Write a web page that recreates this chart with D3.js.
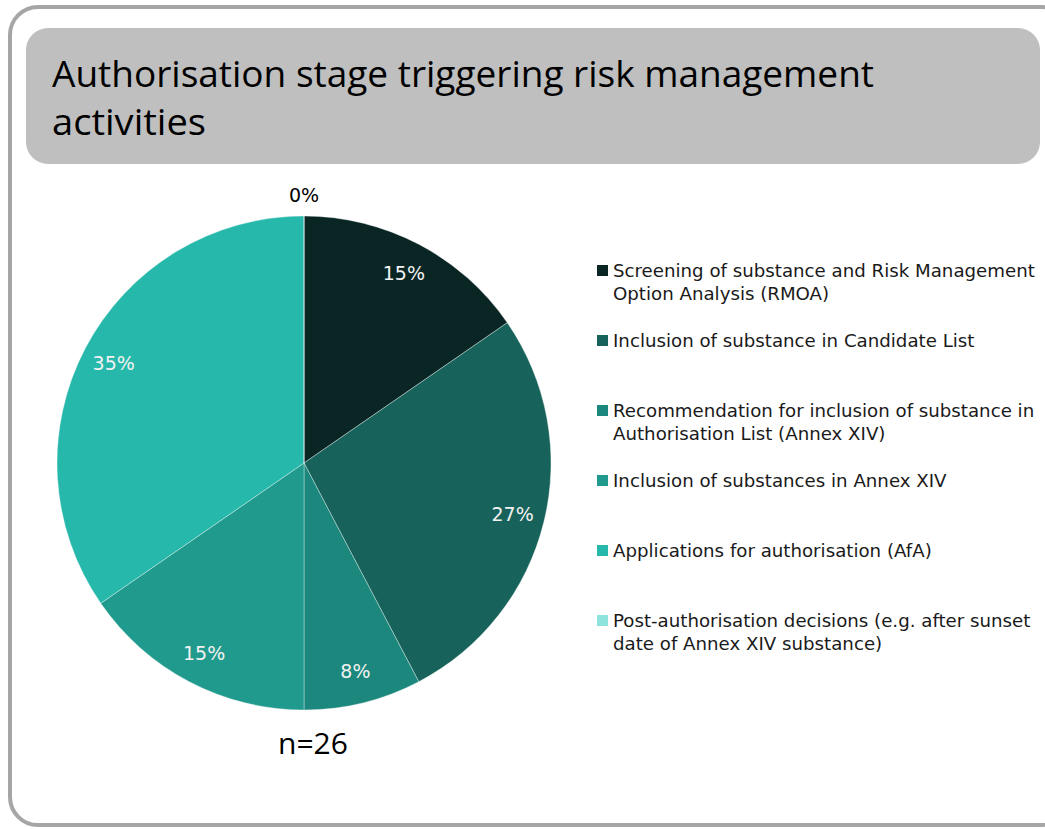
<!DOCTYPE html>
<html lang="en">
<head>
<meta charset="UTF-8">
<title>Authorisation stage triggering risk management activities</title>
<script src="https://cdnjs.cloudflare.com/ajax/libs/d3/7.8.5/d3.min.js"></script>
<style>
  body { margin: 0; background: #fff; }
  svg { display: block; }
  .title { font-family: "Open Sans", sans-serif; font-size: 37px; fill: #000; }
  .legend text { font-family: "DejaVu Sans", sans-serif; font-size: 18.2px; fill: #1a1a1a; }
  .pct { font-family: "DejaVu Sans", sans-serif; font-size: 19px; }
  .nlabel { font-family: "Open Sans", sans-serif; font-size: 30px; fill: #000; }
</style>
</head>
<body>
<svg id="chart" width="1045" height="829"></svg>
<script>
// chart data
const stages = [
  ["Screening of substance and Risk Management", "Option Analysis (RMOA)"],
  ["Inclusion of substance in Candidate List"],
  ["Recommendation for inclusion of substance in", "Authorisation List (Annex XIV)"],
  ["Inclusion of substances in Annex XIV"],
  ["Applications for authorisation (AfA)"],
  ["Post-authorisation decisions (e.g. after sunset", "date of Annex XIV substance)"]
];
const counts = [4, 7, 2, 4, 9, 0];   // n = 26
const colours = ["#0a2624", "#17625a", "#1c877c", "#209a8d", "#26b8aa", "#8ee4dc"];
const total = d3.sum(counts);

const svg = d3.select("#chart");

// outer frame
svg.append("rect")
  .attr("x", 10).attr("y", 7)
  .attr("width", 1060).attr("height", 818)
  .attr("rx", 28).attr("ry", 28)
  .attr("fill", "#fff")
  .attr("stroke", "#a6a6a6").attr("stroke-width", 4);

// title box
svg.append("rect")
  .attr("x", 26).attr("y", 28)
  .attr("width", 1014).attr("height", 136)
  .attr("rx", 22).attr("ry", 22)
  .attr("fill", "#bfbfbf");

const title = svg.append("text").attr("class", "title");
title.append("tspan").attr("x", 52).attr("y", 87)
  .attr("textLength", 822).attr("lengthAdjust", "spacingAndGlyphs")
  .text("Authorisation stage triggering risk management");
title.append("tspan").attr("x", 52).attr("y", 135)
  .attr("textLength", 154).attr("lengthAdjust", "spacingAndGlyphs")
  .text("activities");

// pie
const cx = 304, cy = 463, radius = 247;
const pie = d3.pie().sort(null).value(d => d)(counts);
const arc = d3.arc().innerRadius(0).outerRadius(radius);
const labelArc = d3.arc().innerRadius(radius * 0.87).outerRadius(radius * 0.87);
const outerArc = d3.arc().innerRadius(radius * 1.085).outerRadius(radius * 1.085);

const g = svg.append("g").attr("transform", `translate(${cx},${cy})`);

g.selectAll("path.slice")
  .data(pie)
  .enter().append("path")
  .attr("class", "slice")
  .attr("d", arc)
  .attr("fill", (d, i) => colours[i])
  .attr("stroke", "rgba(255,255,255,0.35)")
  .attr("stroke-width", 1);

g.selectAll("text.pct")
  .data(pie)
  .enter().append("text")
  .attr("class", "pct")
  .attr("transform", d => {
    const p = d.value === 0 ? outerArc.centroid(d) : labelArc.centroid(d);
    return `translate(${p[0]},${p[1]})`;
  })
  .attr("text-anchor", "middle")
  .attr("dy", "0.36em")
  .attr("fill", d => d.value === 0 ? "#000" : "#f2f2f2")
  .text(d => Math.round(d.value / total * 100) + "%");

svg.append("text")
  .attr("class", "nlabel")
  .attr("x", 313).attr("y", 754)
  .attr("text-anchor", "middle")
  .text("n=" + total);

// legend
const legend = svg.selectAll("g.legend")
  .data(stages)
  .enter().append("g")
  .attr("class", "legend")
  .attr("transform", (d, i) => `translate(597,${277 + i * 70})`);

legend.append("rect")
  .attr("x", 0).attr("y", -12)
  .attr("width", 11).attr("height", 11)
  .attr("fill", (d, i) => colours[i]);

legend.each(function(lines) {
  const t = d3.select(this).append("text").attr("x", 16);
  lines.forEach((line, j) => {
    t.append("tspan").attr("x", 16).attr("y", j * 23).text(line);
  });
});
</script>
</body>
</html>
